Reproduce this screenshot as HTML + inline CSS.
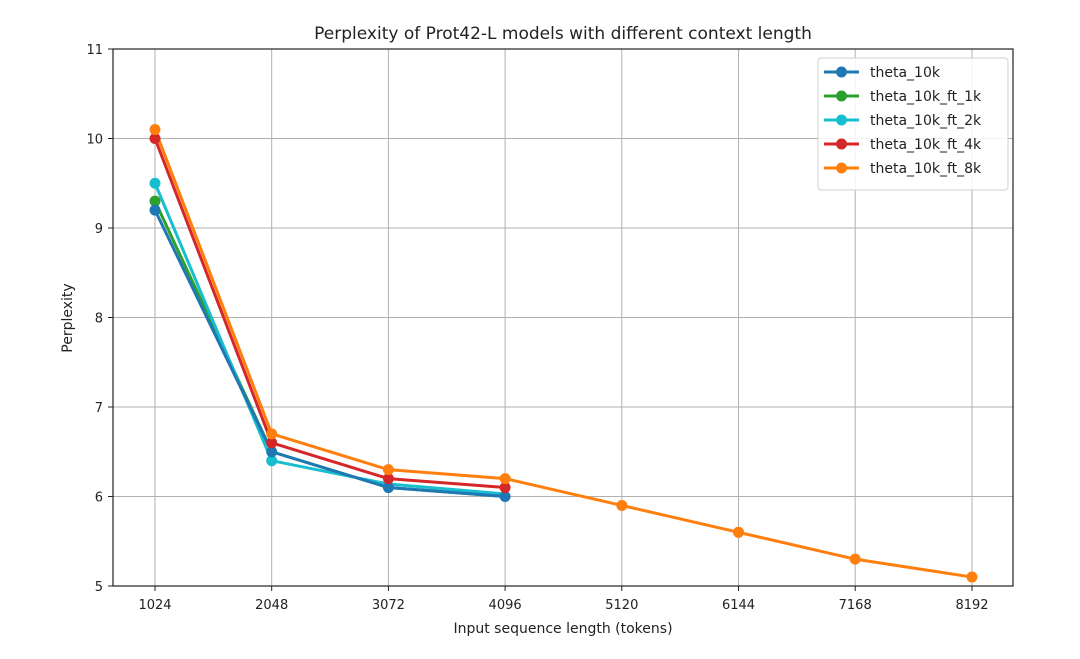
<!DOCTYPE html>
<html><head><meta charset="utf-8"><style>
html,body{margin:0;padding:0;background:#fff;}
svg{display:block;font-family:"DejaVu Sans","Liberation Sans",sans-serif;}
</style></head><body>
<svg width="1080" height="659" viewBox="0 0 1080 659" xmlns="http://www.w3.org/2000/svg">
<rect width="1080" height="659" fill="#fff"/>
<g stroke="#b0b0b0" stroke-width="1">
<line x1="155" y1="49" x2="155" y2="586"/><line x1="271.7" y1="49" x2="271.7" y2="586"/>
<line x1="388.4" y1="49" x2="388.4" y2="586"/><line x1="505.1" y1="49" x2="505.1" y2="586"/>
<line x1="621.8" y1="49" x2="621.8" y2="586"/><line x1="738.5" y1="49" x2="738.5" y2="586"/>
<line x1="855.2" y1="49" x2="855.2" y2="586"/><line x1="972" y1="49" x2="972" y2="586"/>
<line x1="113" y1="496.5" x2="1013" y2="496.5"/><line x1="113" y1="407" x2="1013" y2="407"/>
<line x1="113" y1="317.5" x2="1013" y2="317.5"/><line x1="113" y1="228" x2="1013" y2="228"/>
<line x1="113" y1="138.5" x2="1013" y2="138.5"/>
</g>
<rect x="113" y="49" width="900" height="537" fill="none" stroke="#222" stroke-width="1.2"/>
<g stroke="#222" stroke-width="1">
<line x1="155" y1="586" x2="155" y2="591"/><line x1="271.7" y1="586" x2="271.7" y2="591"/>
<line x1="388.4" y1="586" x2="388.4" y2="591"/><line x1="505.1" y1="586" x2="505.1" y2="591"/>
<line x1="621.8" y1="586" x2="621.8" y2="591"/><line x1="738.5" y1="586" x2="738.5" y2="591"/>
<line x1="855.2" y1="586" x2="855.2" y2="591"/><line x1="972" y1="586" x2="972" y2="591"/>
<line x1="108" y1="586" x2="113" y2="586"/><line x1="108" y1="496.5" x2="113" y2="496.5"/>
<line x1="108" y1="407" x2="113" y2="407"/><line x1="108" y1="317.5" x2="113" y2="317.5"/>
<line x1="108" y1="228" x2="113" y2="228"/><line x1="108" y1="138.5" x2="113" y2="138.5"/>
<line x1="108" y1="49" x2="113" y2="49"/>
</g>
<g font-size="13" fill="#222" text-anchor="middle">
<text x="155" y="609">1024</text><text x="271.7" y="609">2048</text><text x="388.4" y="609">3072</text>
<text x="505.1" y="609">4096</text><text x="621.8" y="609">5120</text><text x="738.5" y="609">6144</text>
<text x="855.2" y="609">7168</text><text x="972" y="609">8192</text>
</g>
<g font-size="13" fill="#222" text-anchor="end">
<text x="103" y="591">5</text><text x="103" y="501.5">6</text><text x="103" y="412">7</text>
<text x="103" y="322.5">8</text><text x="103" y="233">9</text><text x="103" y="143.5">10</text>
<text x="103" y="54">11</text>
</g>
<text x="563" y="633" font-size="14" fill="#222" text-anchor="middle">Input sequence length (tokens)</text>
<text x="72" y="318" font-size="14" fill="#222" text-anchor="middle" transform="rotate(-90 72 318)">Perplexity</text>
<text x="563" y="39" font-size="17" fill="#222" text-anchor="middle">Perplexity of Prot42-L models with different context length</text>
<g stroke-width="3" fill="none" stroke-linejoin="round">
<polyline stroke="#2ca02c" points="155,201.15 271.7,451.75 388.4,487.55 505.1,496.5"/>
<polyline stroke="#17becf" points="155,183.25 271.7,460.7 388.4,484 505.1,494"/>
<polyline stroke="#1f77b4" points="155,210.1 271.7,451.75 388.4,487.55 505.1,496.5"/>
<polyline stroke="#d62728" points="155,138.5 271.7,442.8 388.4,478.6 505.1,487.55"/>
<polyline stroke="#ff7f0e" points="155,129.55 271.7,433.85 388.4,469.65 505.1,478.6 621.8,505.45 738.5,532.3 855.2,559.15 972,577.05"/>
</g>
<g fill="#2ca02c"><circle cx="155" cy="201.15" r="5.5"/></g>
<g fill="#17becf"><circle cx="155" cy="183.25" r="5.5"/><circle cx="271.7" cy="460.7" r="5.5"/></g>
<g fill="#1f77b4"><circle cx="155" cy="210.1" r="5.5"/><circle cx="271.7" cy="451.75" r="5.5"/><circle cx="388.4" cy="487.55" r="5.5"/><circle cx="505.1" cy="496.5" r="5.5"/></g>
<g fill="#d62728"><circle cx="155" cy="138.5" r="5.5"/><circle cx="271.7" cy="442.8" r="5.5"/><circle cx="388.4" cy="478.6" r="5.5"/><circle cx="505.1" cy="487.55" r="5.5"/></g>
<g fill="#ff7f0e"><circle cx="155" cy="129.55" r="5.5"/><circle cx="271.7" cy="433.85" r="5.5"/><circle cx="388.4" cy="469.65" r="5.5"/><circle cx="505.1" cy="478.6" r="5.5"/><circle cx="621.8" cy="505.45" r="5.5"/><circle cx="738.5" cy="532.3" r="5.5"/><circle cx="855.2" cy="559.15" r="5.5"/><circle cx="972" cy="577.05" r="5.5"/></g>
<rect x="818" y="58" width="190" height="132" rx="3" fill="#fff" fill-opacity="0.85" stroke="#d0d0d0"/>
<g stroke-width="3">
<line x1="824" y1="72" x2="859" y2="72" stroke="#1f77b4"/><circle cx="841.5" cy="72" r="5.5" fill="#1f77b4"/>
<line x1="824" y1="96" x2="859" y2="96" stroke="#2ca02c"/><circle cx="841.5" cy="96" r="5.5" fill="#2ca02c"/>
<line x1="824" y1="120" x2="859" y2="120" stroke="#17becf"/><circle cx="841.5" cy="120" r="5.5" fill="#17becf"/>
<line x1="824" y1="144" x2="859" y2="144" stroke="#d62728"/><circle cx="841.5" cy="144" r="5.5" fill="#d62728"/>
<line x1="824" y1="168" x2="859" y2="168" stroke="#ff7f0e"/><circle cx="841.5" cy="168" r="5.5" fill="#ff7f0e"/>
</g>
<g font-size="14" fill="#222">
<text x="870" y="77">theta_10k</text><text x="870" y="101">theta_10k_ft_1k</text>
<text x="870" y="125">theta_10k_ft_2k</text><text x="870" y="149">theta_10k_ft_4k</text>
<text x="870" y="173">theta_10k_ft_8k</text>
</g>
</svg>
</body></html>
